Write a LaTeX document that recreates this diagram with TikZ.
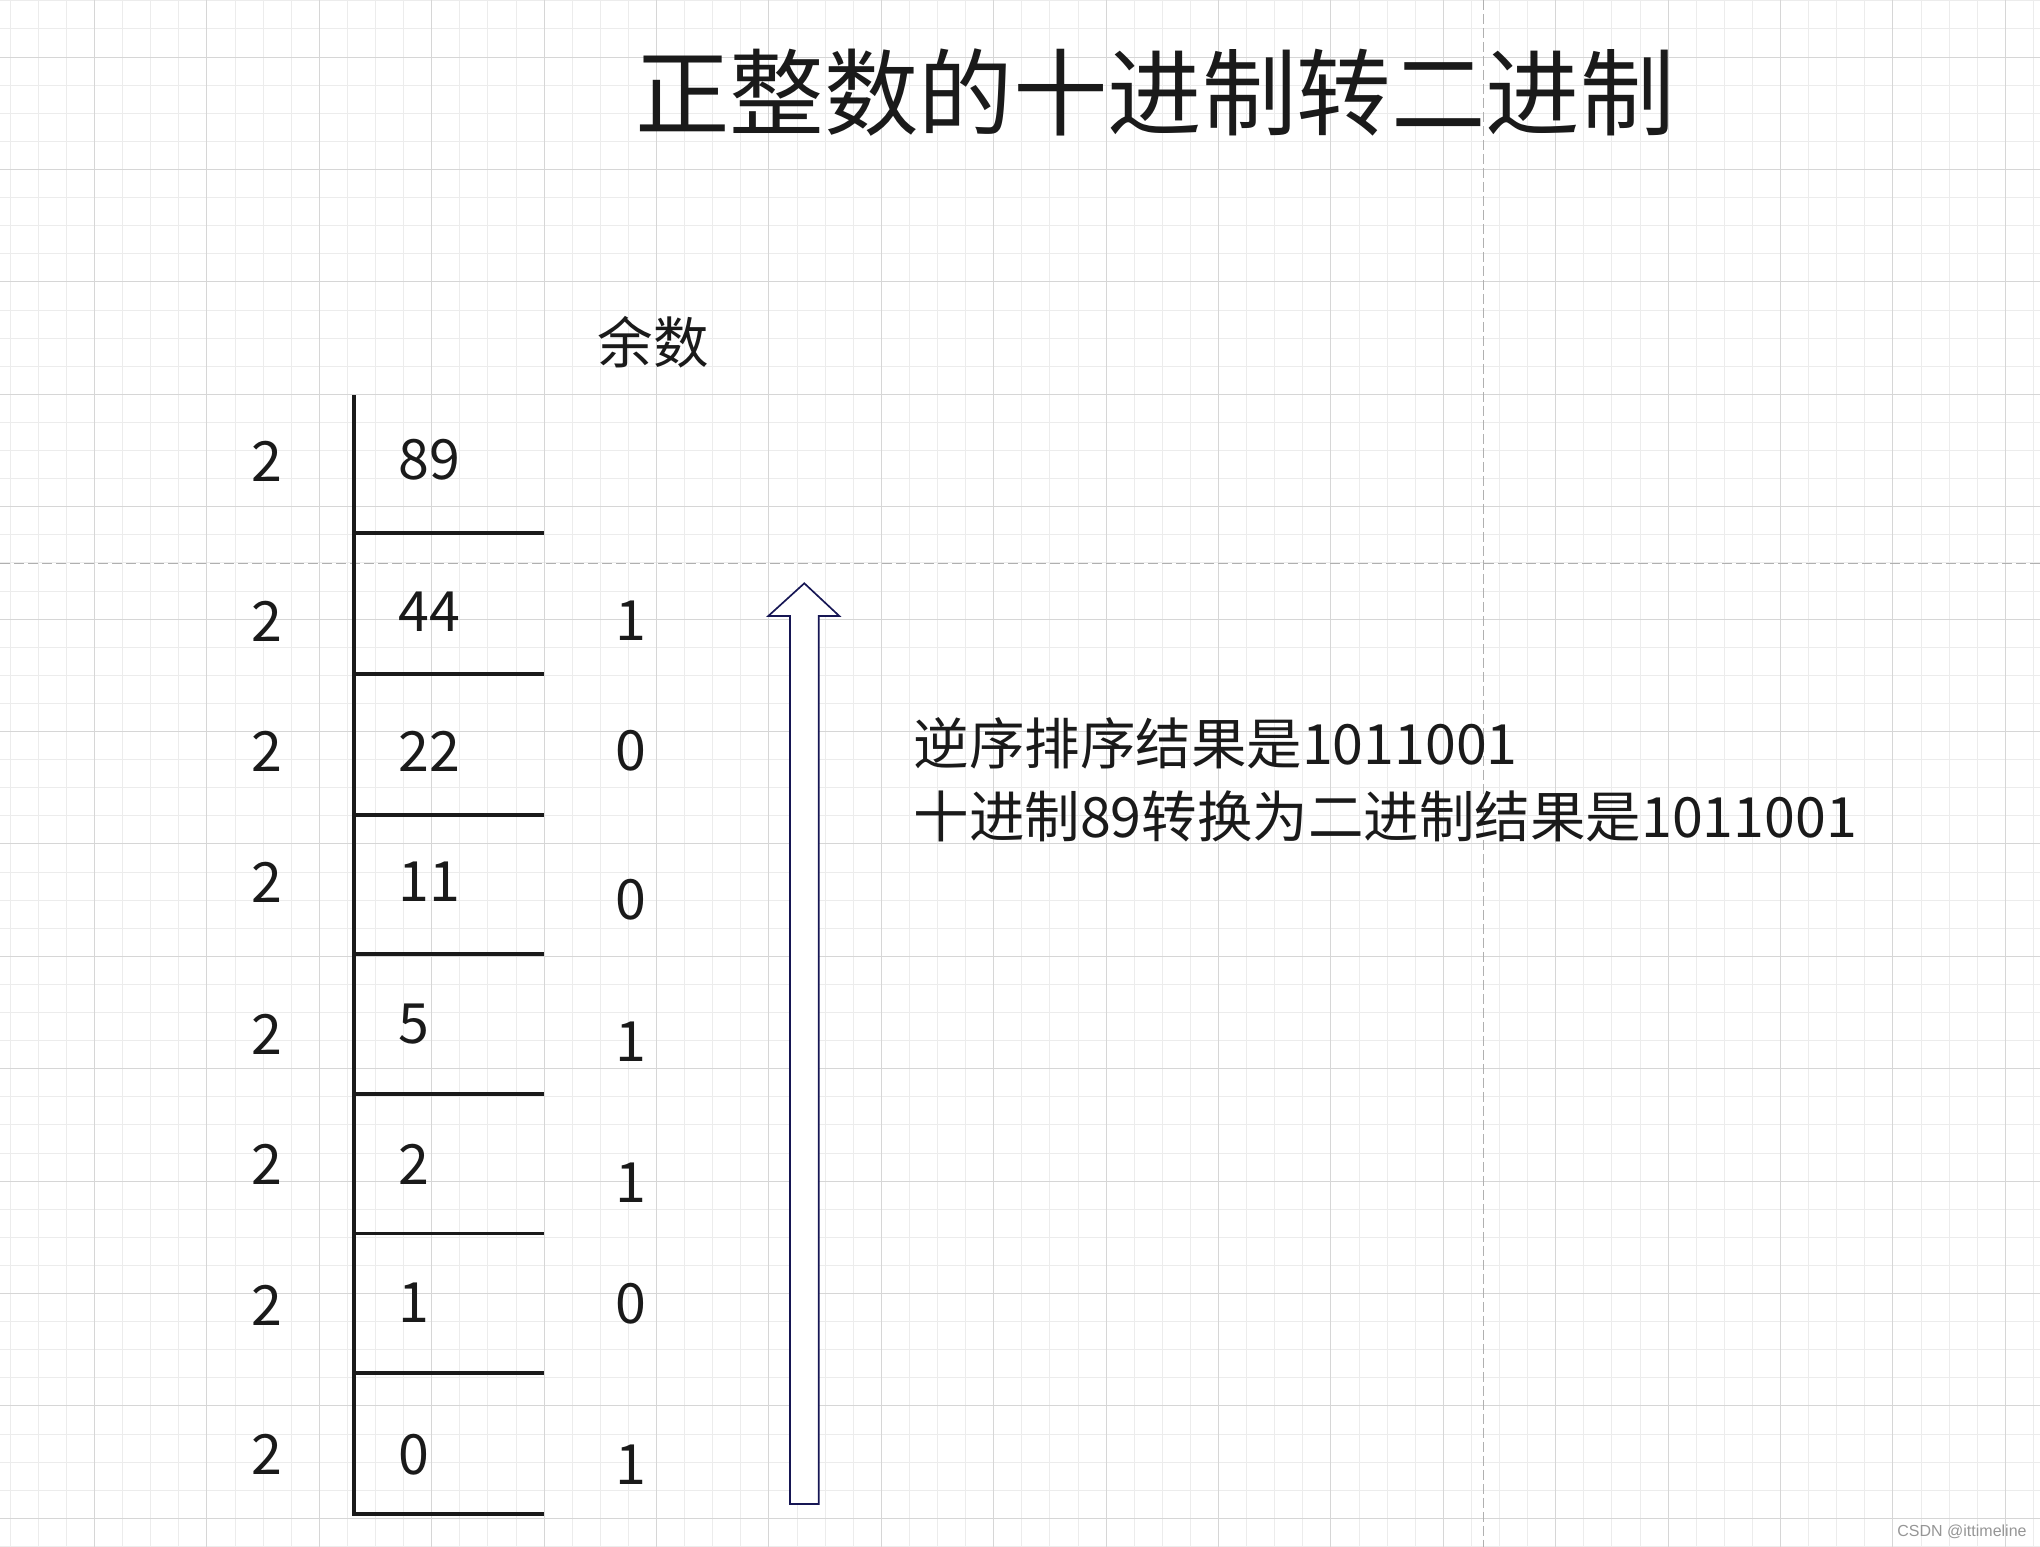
\documentclass[tikz,border=0pt]{standalone}
\usepackage{fontspec}
\setmainfont{Noto Sans CJK SC}
\newfontfamily\markfont{Liberation Sans}
\definecolor{inkgray}{RGB}{26,26,26}
\definecolor{gridminor}{RGB}{236,236,236}
\definecolor{gridmajor}{RGB}{214,214,214}
\definecolor{pagebreak}{RGB}{176,176,176}
\definecolor{arrownavy}{RGB}{22,22,84}
\definecolor{markgray}{RGB}{150,150,150}

\begin{document}
\begin{tikzpicture}[x=0.3pt, y=-0.3pt,
        txt/.style={inner sep=0pt, text=inkgray, font=\fontsize{16.65}{20}\selectfont},
        rule/.style={inkgray, line width=0.95pt},
        gridline/.style={line width=0.3pt}]
        \useasboundingbox (0, 0) rectangle (2040, 1547);
        \fill[white] (0, 0) rectangle (2040, 1547);

        % Grid
        \foreach \k in {0, 1, ..., 72} {
            \draw[gridline, gridminor] ({10.2 + 28.1*\k}, 0) -- ({10.2 + 28.1*\k}, 1547);
        }
        \foreach \k in {0, 1, ..., 55} {
            \draw[gridline, gridminor] (0, {0.9 + 28.1*\k}) -- (2040, {0.9 + 28.1*\k});
        }
        \foreach \k in {3, 7, ..., 71} {
            \draw[gridline, gridmajor] ({10.2 + 28.1*\k}, 0) -- ({10.2 + 28.1*\k}, 1547);
        }
        \foreach \k in {2, 6, ..., 54} {
            \draw[gridline, gridmajor] (0, {0.9 + 28.1*\k}) -- (2040, {0.9 + 28.1*\k});
        }

        %% page breaks
        \draw[gridline, pagebreak, dash pattern=on 3pt off 1.2pt] (0, 563) -- (2040, 563);
        \draw[gridline, pagebreak, dash pattern=on 3pt off 1.2pt] (1483, 0) -- (1483, 1547);

        % Title
        \node[txt, font=\fontsize{28.35}{34}\selectfont] (title) at (1155, 92.5) {正整数的十进制转二进制};

        % Short division
        \draw[rule] (354, 395) -- (354, 1515.5);
        \foreach \y in {533, 674, 815, 954, 1094, 1233.5, 1373, 1514} {
            \draw[rule] (354, \y) -- (543.5, \y);
        }

        \foreach \i/\yd/\q/\yq in {1/461/89/460, 2/621/44/612, 3/751/22/751, 4/882/11/882,
                5/1034/5/1024, 6/1164/2/1164, 7/1305/1/1303, 8/1454/0/1455} {
            \node[txt] (d\i) at (267, \yd) {2};
            \node[txt, anchor=west] (q\i) at (398, \yq) {\q};
        }

        % Remainders
        \node[txt] (head) at (653, 342) {余数};
        \foreach \i/\r/\yr in {2/1/621, 3/0/751, 4/0/900, 5/1/1042, 6/1/1183, 7/0/1304, 8/1/1465} {
            \node[txt] (r\i) at (631, \yr) {\r};
        }

        % Read upwards
        \draw[arrownavy, fill=white, line width=0.5pt, line join=miter]
            (790, 1504) -- (790, 616) -- (768.3, 616) -- (804.3, 583.3)
            -- (839.3, 616) -- (818.7, 616) -- (818.7, 1504) -- cycle;

        % Result
        \node[txt, anchor=west] (res1) at (913, 743) {逆序排序结果是1011001};
        \node[txt, anchor=west] (res2) at (913, 816) {十进制89转换为二进制结果是1011001};

        \node[inner sep=0pt, text=markgray, font=\markfont\fontsize{4.8}{6}\selectfont] (mark) at (1962, 1532) {CSDN @ittimeline};
    \end{tikzpicture}
\end{document}
